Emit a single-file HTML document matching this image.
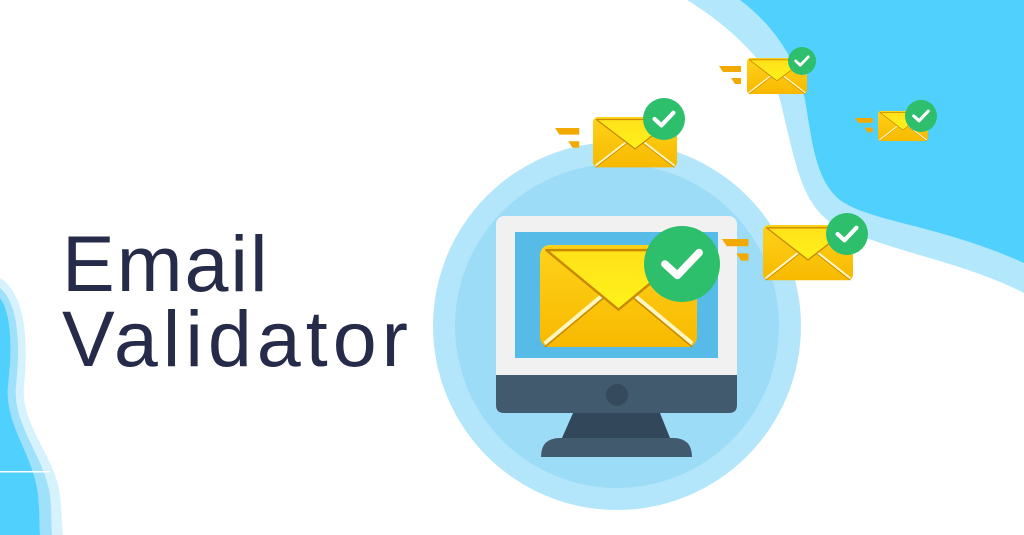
<!DOCTYPE html>
<html><head><meta charset="utf-8"><style>
html,body{margin:0;padding:0;background:#fff;}
body{width:1024px;height:535px;overflow:hidden;position:relative;}
svg{position:absolute;left:0;top:0;}
.t{position:absolute;left:62px;font-family:"Liberation Sans",sans-serif;color:#252b48;font-size:79px;letter-spacing:5px;line-height:1;}
</style></head><body>
<svg width="1024" height="535" viewBox="0 0 1024 535">
<defs>
<linearGradient id="eg" x1="0" y1="0" x2="0" y2="1"><stop offset="0" stop-color="#ffd21a"/><stop offset="1" stop-color="#f7b900"/></linearGradient>
<linearGradient id="fl" x1="0" y1="0" x2="0" y2="1"><stop offset="0" stop-color="#ffe11a"/><stop offset="1" stop-color="#fff21a"/></linearGradient>
<g id="env">
<rect x="0" y="0" width="100" height="60" rx="6" fill="url(#eg)"/>
<path d="M3 58 L42 28 M97 58 L58 28" stroke="#fff6c0" stroke-width="2.5"/>
<path d="M3 58 L42 28 M97 58 L58 28" stroke="#c98a00" stroke-width="1" transform="translate(0,2)"/>
<path d="M4 3 L50 38 L96 3 Z" fill="url(#fl)" stroke="#c98a00" stroke-width="1.5" stroke-linejoin="round"/>
</g>
<g id="chk">
<circle cx="0" cy="0" r="1" fill="#2dbf6c"/>
<path d="M-0.45 0 L-0.12 0.3 L0.45 -0.3" stroke="#fff" stroke-width="0.2" fill="none" stroke-linecap="round" stroke-linejoin="round"/>
</g>
<g id="spd">
<path d="M0 0 H22 V6 H4 Z M12 12 H22 V18 H16 Z" fill="#f2a900"/>
</g>
</defs>
<path d="M687 0 C720 20 770 60 780 100 C795 160 800 200 830 222 C880 250 960 260 1024 293 L1024 0 Z" fill="#b3e8fc"/>
<path d="M740 0 C780 30 800 70 805 100 C812 140 815 180 840 200 C870 222 940 225 1024 263 L1024 0 Z" fill="#50d0fd"/>
<path d="M0 278 C28 295 28 350 24 385 C20 425 55 455 60 495 C62 515 62 525 63 535 L0 535 Z" fill="#d6f2fd"/>
<path d="M0 288 C20 305 20 350 16 385 C12 425 44 455 50 495 C52 515 51 525 52 535 L0 535 Z" fill="#9fe0fb"/>
<path d="M0 298 C12 315 12 350 8 385 C4 425 34 455 38 495 C40 515 39 525 40 535 L0 535 Z" fill="#50d0fd"/>
<rect x="0" y="471" width="50" height="1.5" fill="#fff"/>
<circle cx="617" cy="326" r="184" fill="#b3e6fb"/>
<circle cx="617" cy="326" r="162" fill="#9cdcf7"/>
<rect x="496" y="216" width="241" height="197" rx="8" fill="#f1f1f1"/>
<path d="M496 375 H737 V405 Q737 413 729 413 H504 Q496 413 496 405 Z" fill="#425a6e"/>
<circle cx="617" cy="395" r="11" fill="#354a5c"/>
<rect x="515" y="232" width="203" height="126" fill="#56bce7"/>
<path d="M573 413 H660 L670 438 H562 Z" fill="#33475a"/>
<path d="M541 457 Q541 438 560 438 H673 Q692 438 692 457 Z" fill="#425a6e"/>
<use href="#env" transform="translate(540,245) scale(1.57,1.7)"/>
<use href="#chk" transform="translate(682,264) scale(38)"/>
<use href="#spd" transform="translate(722,239) scale(1.2)"/>
<use href="#spd" transform="translate(555,128) scale(1.1)"/>
<use href="#env" transform="translate(593,117) scale(0.84,0.84)"/>
<use href="#chk" transform="translate(664,119) scale(21)"/>
<use href="#spd" transform="translate(719,66) scale(1)"/>
<use href="#env" transform="translate(747,58) scale(0.6,0.6)"/>
<use href="#chk" transform="translate(802,61) scale(14)"/>
<use href="#spd" transform="translate(855,118) scale(0.8)"/>
<use href="#env" transform="translate(878,111) scale(0.5,0.5)"/>
<use href="#chk" transform="translate(921,116) scale(16)"/>
<use href="#env" transform="translate(763,225) scale(0.9,0.92)"/>
<use href="#chk" transform="translate(847,234) scale(21)"/>
</svg>
<div class="t" style="top:224px;letter-spacing:2px;">Email</div>
<div class="t" style="top:299px;">Validator</div>
</body></html>
